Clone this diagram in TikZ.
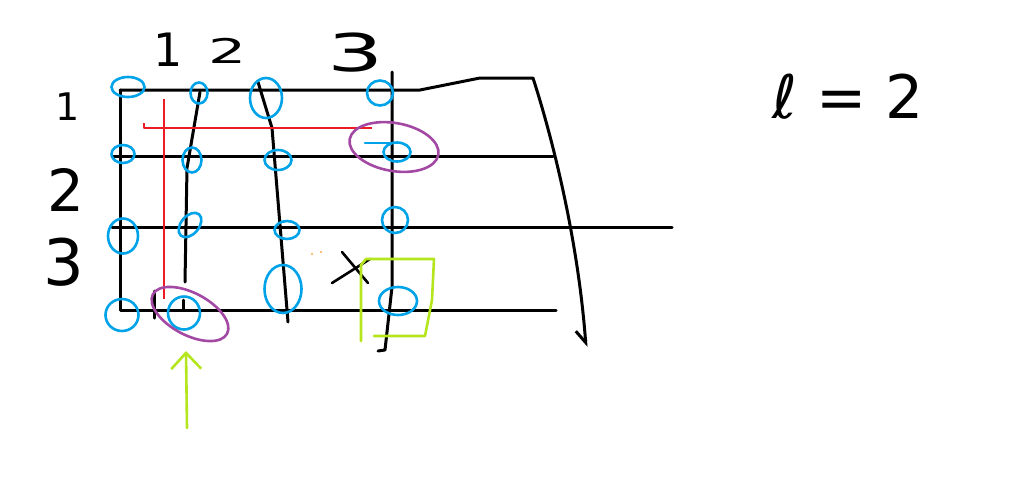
\documentclass[tikz,border=0pt]{standalone}
\usepackage{fontspec}
\setmainfont{DejaVu Sans}
\usetikzlibrary{arrows.meta,shapes.geometric}
\definecolor{paintblue}{RGB}{0,162,232}
\definecolor{paintred}{RGB}{237,28,36}
\definecolor{paintpurple}{RGB}{163,73,164}
\definecolor{paintlime}{RGB}{181,230,29}

\begin{document}
\begin{tikzpicture}[x=1pt,y=-1pt,
		pen/.style={line width=3pt,line cap=round,line join=round},
		blob/.style={ellipse,draw=paintblue,line width=2.6pt,inner sep=0pt},
		ring/.style={ellipse,draw=paintpurple,line width=2.6pt,inner sep=0pt},
		hand/.style={inner sep=0pt,font=\fontsize{#1}{#1}\selectfont},
		hand/.default=44]
	\useasboundingbox (0,0) rectangle (1016,483);
	% grid
	\coordinate (nw) at (120,90);
	\coordinate (sw) at (120,310);
	\coordinate (r1e) at (420,90);
	\coordinate (r1k) at (480,78);
	\coordinate (r1t) at (533,78);
	\coordinate (tip) at (586,347);
	\coordinate (r2w) at (112,156);
	\coordinate (r2e) at (553,156);
	\coordinate (r3w) at (112,227);
	\coordinate (r3e) at (672,227);
	\coordinate (r4e) at (556,310);
	\coordinate (c1n) at (200,92);
	\coordinate (c1m) at (187,168);
	\coordinate (c1s) at (185,282);
	\coordinate (c1a) at (183,300);
	\coordinate (c1b) at (183,310);
	\coordinate (c2n) at (258,82);
	\coordinate (c2m) at (272,128);
	\coordinate (c2s) at (288,322);
	\coordinate (c3n) at (392,72);
	\coordinate (c3m) at (392,287);
	\coordinate (c3s) at (385,350);
	\coordinate (c3h) at (378,351);
	\coordinate (tka) at (154,291);
	\coordinate (tkb) at (154,318);
	\draw[pen] (nw) -- (sw) -- (r4e);
	\draw[pen] (r2w) -- (r2e);
	\draw[pen] (r3w) -- (r3e);
	\draw[pen,-{Straight Barb[harpoon,swap,length=12pt,width=18pt]}] (nw) -- (r1e) -- (r1k) -- (r1t)
		.. controls (553,140) and (578,240) .. (tip);
	\draw[pen] (c1n) -- (c1m) -- (c1s);
	\draw[pen] (c1a) -- (c1b);
	\draw[pen] (c2n) -- (c2m) -- (c2s);
	\draw[pen] (c3n) -- (c3m) -- (c3s) -- (c3h);
	\draw[pen] (tka) -- (tkb);
	% red cross
	\coordinate (rvn) at (164,99);
	\coordinate (rvs) at (164,299);
	\coordinate (rhw) at (144,123);
	\coordinate (rhe) at (372,128);
	\draw[pen,paintred,line width=2.6pt,line cap=butt] (rvn) -- (rvs);
	\draw[pen,paintred,line width=2.6pt,line cap=butt] (rhw) |- (rhe);
	% cross mark and dots
	\coordinate (xa) at (342,252);
	\coordinate (xb) at (368,283);
	\coordinate (xc) at (332,283);
	\coordinate (xd) at (370,259);
	\draw[pen,line width=2.6pt] (xa) -- (xb);
	\draw[pen,line width=2.6pt] (xc) -- (xd);
	\fill[orange!70] (312,254) circle (1.2) (321,252) circle (1.2);
	% blobs
	\node[blob,minimum width=33,minimum height=20] (b11) at (128,87) {};
	\node[blob,minimum width=17,minimum height=21] (b12) at (199,93) {};
	\node[blob,minimum width=32,minimum height=40] (b13) at (266,98) {};
	\node[blob,minimum width=26,minimum height=25] (b14) at (380,93) {};
	\node[blob,minimum width=23,minimum height=18] (b21) at (123,154) {};
	\node[blob,minimum width=19,minimum height=25] (b22) at (192,160) {};
	\node[blob,minimum width=27,minimum height=20] (b23) at (278,160) {};
	\node[blob,minimum width=27,minimum height=19] (b24) at (397,152) {};
	\node[blob,minimum width=30,minimum height=35] (b31) at (123,236) {};
	\node[blob,minimum width=28,minimum height=18,rotate=50] (b32) at (190,225) {};
	\node[blob,minimum width=25,minimum height=18] (b33) at (287,230) {};
	\node[blob,minimum width=26,minimum height=26] (b34) at (395,220) {};
	\node[blob,minimum width=33,minimum height=32] (b41) at (122,315) {};
	\node[blob,minimum width=32,minimum height=33] (b42) at (184,313) {};
	\node[blob,minimum width=37,minimum height=48] (b43) at (283,289) {};
	\node[blob,minimum width=38,minimum height=28] (b44) at (398,301) {};
	\coordinate (bla) at (365,143);
	\coordinate (blb) at (392,143);
	\draw[pen,paintblue,line width=2.6pt] (bla) -- (blb);
	% rings
	\node[ring,minimum width=90,minimum height=48,rotate=-10] (ringtop) at (394,147) {};
	\node[ring,minimum width=84,minimum height=42,rotate=-28] (ringbot) at (190,314) {};
	% lime box and arrow
	\coordinate (ga) at (374,336);
	\coordinate (gb) at (425,336);
	\coordinate (gc) at (432,300);
	\coordinate (gd) at (434,259);
	\coordinate (ge) at (366,259);
	\coordinate (gf) at (361,265);
	\coordinate (gg) at (361,341);
	\draw[pen,paintlime,line width=2.6pt] (ga) -- (gb) -- (gc) -- (gd) -- (ge) -- (gf) -- (gg);
	\coordinate (arw) at (187,428);
	\coordinate (arh) at (186,351);
	\draw[pen,paintlime,line width=2.6pt,-{Straight Barb[length=16pt,width=30pt]}] (arw) -- (arh);
	% labels
	\node[hand=46] (top1) at (168,50) {1};
	\node[hand=40] (top2) at (228,51) {\scalebox{1.5}[0.85]{2}};
	\node[hand=52] (top3) at (356,53) {\scalebox{1.7}[1]{3}};
	\node[hand=38] (left1) at (68,107) {1};
	\node[hand=58] (left2) at (66,190) {2};
	\node[hand=64] (left3) at (64,262) {3};
	\node[hand=60] (ell) at (848,97) {ℓ = 2};
\end{tikzpicture}
\end{document}
